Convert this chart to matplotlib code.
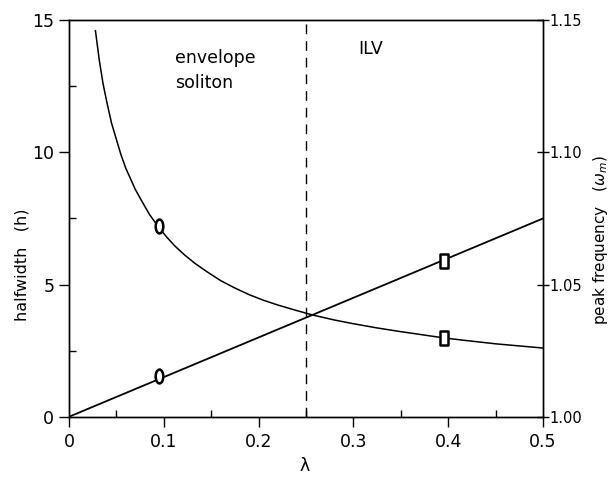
import matplotlib
matplotlib.use("Agg")
import matplotlib.pyplot as plt
from matplotlib.path import Path
from matplotlib.transforms import Affine2D
from matplotlib.ticker import MultipleLocator

# halfwidth h versus lambda (left axis)
lam_h = [0.028, 0.032, 0.036, 0.040, 0.045, 0.050, 0.055, 0.060, 0.065, 0.070,
         0.077, 0.085, 0.094, 0.103, 0.112, 0.122, 0.133, 0.145, 0.160, 0.175,
         0.190, 0.205, 0.220, 0.240, 0.257, 0.280, 0.300, 0.325, 0.350, 0.375,
         0.396, 0.420, 0.450, 0.475, 0.500]
halfwidth = [14.6, 13.5, 12.6, 11.9, 11.1, 10.5, 9.9, 9.4, 9.0, 8.6,
             8.15, 7.65, 7.2, 6.8, 6.45, 6.12, 5.8, 5.5, 5.15, 4.87,
             4.62, 4.41, 4.23, 4.02, 3.85, 3.66, 3.52, 3.36, 3.22, 3.09,
             2.98, 2.88, 2.76, 2.68, 2.60]

# peak frequency omega_m versus lambda (right axis)
lam_w = [0.0, 0.5]
omega = [1.000, 1.075]

# simulation points
lam_pts = [0.095, 0.396]
h_pts = [7.2, 2.98]
w_pts = [1.0155, 1.059]

fig = plt.figure(figsize=(6.15, 4.78), dpi=100)
ax = fig.add_axes([0.112, 0.128, 0.771, 0.830])
ax2 = ax.twinx()

ax.plot(lam_h, halfwidth, color="black", lw=1.1)
ax2.plot(lam_w, omega, color="black", lw=1.3)
ax.axvline(0.25, color="black", lw=1.0, ls=(0, (7, 5)))

ellipse = Path.unit_circle().transformed(Affine2D().scale(0.55, 1.0))
rect = Path([(-0.55, -1), (0.55, -1), (0.55, 1), (-0.55, 1), (-0.55, -1)],
            [Path.MOVETO, Path.LINETO, Path.LINETO, Path.LINETO, Path.CLOSEPOLY])
mk = [ellipse, rect]
for i in range(2):
    ax.plot([lam_pts[i]], [h_pts[i]], marker=mk[i], ms=10, mew=1.8,
            mfc="white", mec="black", ls="none", zorder=5)
    ax2.plot([lam_pts[i]], [w_pts[i]], marker=mk[i], ms=10, mew=1.8,
             mfc="white", mec="black", ls="none", zorder=5)

ax.set_xlim(0, 0.5)
ax.set_ylim(0, 15)
ax2.set_ylim(1.00, 1.15)

ax.set_xticks([0, 0.1, 0.2, 0.3, 0.4, 0.5])
ax.set_xticklabels(["0", "0.1", "0.2", "0.3", "0.4", "0.5"])
ax.xaxis.set_minor_locator(MultipleLocator(0.05))
ax.set_yticks([0, 5, 10, 15])
ax.yaxis.set_minor_locator(MultipleLocator(2.5))
ax2.set_yticks([1.00, 1.05, 1.10, 1.15])
ax2.set_yticklabels(["1.00", "1.05", "1.10", "1.15"])

ax.tick_params(axis="both", which="major", direction="out", length=7,
               width=1.0, labelsize=12.5, top=False)
ax.tick_params(axis="both", which="minor", direction="in", length=5,
               width=1.0, top=False)
ax.tick_params(axis="x", pad=5)
ax2.tick_params(axis="y", which="major", direction="inout", length=9,
                width=1.0, labelsize=10.5, pad=0)

for a in (ax, ax2):
    for s in a.spines.values():
        s.set_linewidth(1.0)

# axis titles placed in figure pixels
W, H = 615, 478
fig.text(305 / W, 1 - 466 / H, "λ", fontsize=12.5, ha="center", va="center")
fig.text(22 / W, 1 - 265 / H, "halfwidth   (h)", fontsize=11.5, rotation=90,
         ha="center", va="center")
fig.text(600 / W, 1 - 240 / H, r"peak frequency   ($\omega_m$)", fontsize=11,
         rotation=90, ha="center", va="center")

ax.text(0.112, 13.1, "envelope\nsoliton", fontsize=12.5, ha="left", va="center",
        linespacing=1.5)
ax.text(0.305, 13.9, "ILV", fontsize=12.5, ha="left", va="center")

fig.savefig("out.png", dpi=100)
